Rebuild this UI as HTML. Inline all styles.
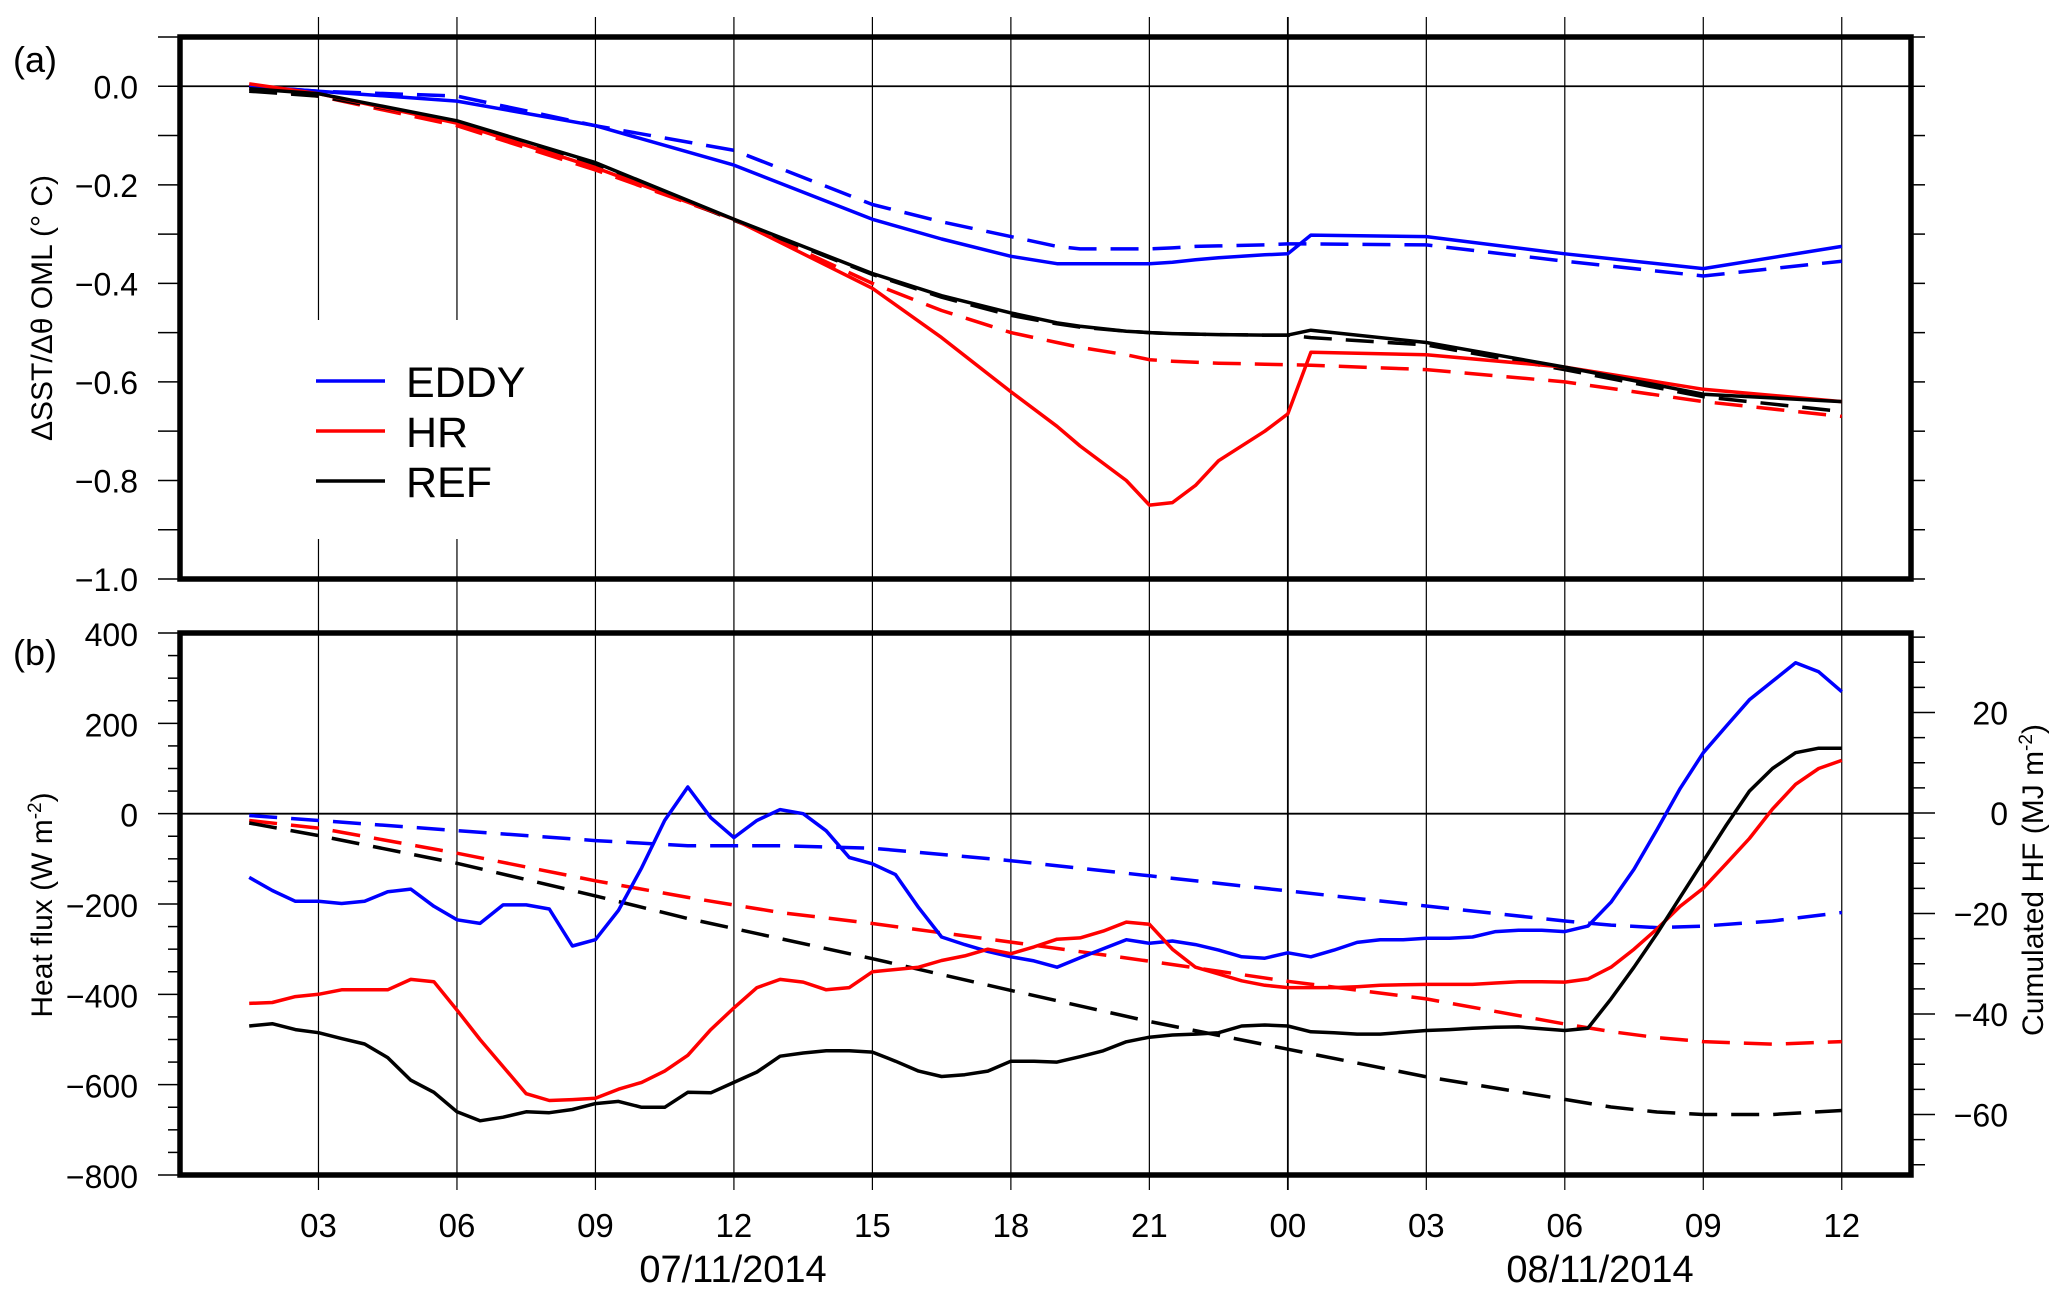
<!DOCTYPE html>
<html><head><meta charset="utf-8"><style>
html,body{margin:0;padding:0;background:#fff}
svg{display:block;font-family:"Liberation Sans",Arial,sans-serif}
</style></head><body>
<svg id="chart" width="2067" height="1303" viewBox="0 0 2067 1303" xmlns="http://www.w3.org/2000/svg" style="position:absolute;left:0;top:0">
<g id="grid"></g>
<g id="plotA"></g>
<g id="plotB"></g>
<g id="axes"></g>
<g id="legend">
  <line x1="316" y1="381" x2="385" y2="381" stroke="#0000ff" stroke-width="3.5"/>
  <text x="406" y="397" font-size="43">EDDY</text>
  <line x1="316" y1="431" x2="385" y2="431" stroke="#ff0000" stroke-width="3.5"/>
  <text x="406" y="447" font-size="43">HR</text>
  <line x1="316" y1="481" x2="385" y2="481" stroke="#000" stroke-width="3.5"/>
  <text x="406" y="497" font-size="43">REF</text>
</g>
<g>
  <text x="13" y="72" font-size="36">(a)</text>
  <text x="13" y="665" font-size="36">(b)</text>
  <text transform="translate(52,308) rotate(-90)" font-size="30" text-anchor="middle">ΔSST/Δθ OML (° C)</text>
  <text transform="translate(52,905) rotate(-90)" font-size="30" text-anchor="middle">Heat flux (W m<tspan font-size="19" dy="-11">-2</tspan><tspan dy="11">)</tspan></text>
  <text transform="translate(2043,880) rotate(-90)" font-size="30" text-anchor="middle">Cumulated HF (MJ m<tspan font-size="19" dy="-11">-2</tspan><tspan dy="11">)</tspan></text>
  <text x="733" y="1282" font-size="38" text-anchor="middle">07/11/2014</text>
  <text x="1600" y="1282" font-size="38" text-anchor="middle">08/11/2014</text>
</g>
</svg>
<script>
// ---- data ----
const hoursA = [1.5,3,6,9,12,15,16.5,18,19,19.5,20.5,21,21.5,22,22.5,23.5,24,24.5,27,30,33,36];
const eddySolidA = [0,-0.01,-0.03,-0.08,-0.16,-0.27,-0.31,-0.345,-0.36,-0.36,-0.36,-0.36,-0.357,-0.352,-0.348,-0.342,-0.34,-0.302,-0.305,-0.34,-0.37,-0.325];
const eddyDashA = [0,-0.01,-0.02,-0.08,-0.13,-0.24,-0.275,-0.305,-0.325,-0.33,-0.33,-0.33,-0.328,-0.325,-0.324,-0.322,-0.32,-0.32,-0.322,-0.355,-0.385,-0.355];
const hrSolidA = [0.005,-0.015,-0.075,-0.165,-0.27,-0.41,-0.51,-0.62,-0.69,-0.73,-0.8,-0.85,-0.845,-0.81,-0.76,-0.7,-0.665,-0.54,-0.545,-0.57,-0.615,-0.64];
const hrDashA = [-0.005,-0.02,-0.08,-0.17,-0.27,-0.4,-0.455,-0.5,-0.52,-0.53,-0.545,-0.555,-0.558,-0.56,-0.562,-0.564,-0.565,-0.566,-0.575,-0.6,-0.64,-0.67];
const refSolidA = [-0.005,-0.015,-0.07,-0.155,-0.27,-0.38,-0.425,-0.46,-0.48,-0.487,-0.497,-0.5,-0.502,-0.503,-0.504,-0.505,-0.505,-0.495,-0.52,-0.57,-0.625,-0.64];
const refDashA = [-0.01,-0.02,-0.072,-0.16,-0.272,-0.382,-0.428,-0.465,-0.482,-0.489,-0.497,-0.5,-0.502,-0.503,-0.504,-0.505,-0.505,-0.51,-0.525,-0.575,-0.63,-0.66];

const hoursB = [];
for (let i = 0; i <= 69; i++) hoursB.push(1.5 + i * 0.5);
const eddyFlux = [-141,-170,-194,-194,-199,-194,-173,-167,-205,-235,-243,-202,-202,-211,-293,-279,-214,-120,-15,59,-9,-53,-15,9,0,-38,-97,-111,-135,-208,-273,-290,-305,-317,-326,-340,-319,-299,-279,-287,-282,-290,-302,-317,-320,-308,-317,-302,-285,-279,-279,-276,-276,-273,-261,-258,-258,-261,-249,-196,-123,-35,56,135,194,252,293,334,314,270];
const hrFlux = [-420,-418,-405,-400,-390,-390,-390,-367,-372,-435,-500,-560,-620,-635,-633,-630,-610,-595,-570,-535,-478,-430,-385,-367,-373,-390,-385,-350,-345,-340,-325,-315,-300,-310,-295,-278,-275,-260,-240,-245,-300,-340,-355,-370,-380,-385,-385,-385,-383,-380,-379,-378,-378,-378,-375,-372,-372,-373,-366,-340,-300,-255,-205,-165,-110,-55,10,65,100,118];
const refFlux = [-470,-465,-478,-485,-498,-510,-540,-590,-617,-660,-680,-672,-660,-662,-655,-642,-637,-650,-650,-617,-618,-595,-572,-537,-530,-525,-525,-528,-548,-570,-582,-578,-570,-548,-548,-550,-538,-525,-505,-495,-490,-488,-485,-470,-468,-470,-483,-485,-488,-488,-484,-480,-478,-475,-473,-472,-476,-480,-475,-410,-340,-265,-185,-105,-25,50,100,135,145,145];

const hoursC = [1.5,3,6,9,11,13,15,18,21,24,27,30,31,32,33,34.5,36];
const eddyCum = [-0.5,-1.5,-3.5,-5.5,-6.5,-6.5,-7,-9.5,-12.5,-15.5,-18.5,-21.5,-22.3,-22.8,-22.5,-21.5,-19.8];
const hrCum = [-1.5,-3,-8,-13.5,-16.8,-19.8,-22,-25.7,-29.5,-33.5,-37,-42,-43.5,-44.7,-45.5,-46,-45.5];
const refCum = [-2,-4.5,-10,-16.5,-21,-25,-29,-35.3,-41.5,-47,-52.5,-57,-58.5,-59.5,-60,-60,-59.2];

const tickHours = [3,6,9,12,15,18,21,24,27,30,33,36];
const tickLabels = ["03","06","09","12","15","18","21","00","03","06","09","12"];
const aTicks = [0.0,-0.2,-0.4,-0.6,-0.8,-1.0];
const bTicks = [400,200,0,-200,-400,-600,-800];
const cTicks = [20,0,-20,-40,-60];

// ---- scales ----
const L = 180, R = 1911;
const x = h => L + (h / 37.5) * (R - L);
const yA = v => 37 + (0.1 - v) / 1.1 * (579 - 37);
const yB = v => 633 + (400 - v) / 1200 * (1175 - 633);
const yC = v => 813 + (0 - v) / 20 * 100.5;

const NS = "http://www.w3.org/2000/svg";
function mk(parent, tag, attrs) {
  const e = document.createElementNS(NS, tag);
  for (const k in attrs) e.setAttribute(k, attrs[k]);
  document.getElementById(parent).appendChild(e);
  return e;
}
function series(parent, hs, vs, ys, color, dashed, name) {
  const d = hs.map((h, i) => (i ? "L" : "M") + x(h).toFixed(1) + "," + ys(vs[i]).toFixed(1)).join(" ");
  const p = mk(parent, "path", {d: d, fill: "none", stroke: color, "stroke-width": 3.5, "stroke-dasharray": dashed ? "28,14" : "none", "stroke-linejoin": "round"});
  
  
}

// gridlines
tickHours.forEach((h, i) => {
  const xx = x(h);
  const sw = h === 24 ? 1.8 : 1.2;
  if (h === 3 || h === 6) {
    const g1 = mk("grid", "line", {x1: xx, x2: xx, y1: 17, y2: 320, stroke: "#000", "stroke-width": sw});
    
    
    const g2 = mk("grid", "line", {x1: xx, x2: xx, y1: 539, y2: 1190, stroke: "#000", "stroke-width": sw});
    
    
  } else {
    const g = mk("grid", "line", {x1: xx, x2: xx, y1: 17, y2: 1190, stroke: "#000", "stroke-width": sw});
    
    
  }
  const t = mk("axes", "text", {x: xx, y: 1237, "font-size": 33, "text-anchor": "middle"});
  t.textContent = tickLabels[i];
  
  
});
// zero lines
const z1 = mk("grid", "line", {x1: L, x2: R, y1: yA(0), y2: yA(0), stroke: "#000", "stroke-width": 1.8});


const z2 = mk("grid", "line", {x1: L, x2: R, y1: yB(0), y2: yB(0), stroke: "#000", "stroke-width": 1.8});



// panel a series
series("plotA", hoursA, eddyDashA, yA, "#0000ff", true, "eddy-dashed-a");
series("plotA", hoursA, hrDashA, yA, "#ff0000", true, "hr-dashed-a");
series("plotA", hoursA, refDashA, yA, "#000", true, "ref-dashed-a");
series("plotA", hoursA, eddySolidA, yA, "#0000ff", false, "eddy-solid-a");
series("plotA", hoursA, hrSolidA, yA, "#ff0000", false, "hr-solid-a");
series("plotA", hoursA, refSolidA, yA, "#000", false, "ref-solid-a");
// panel b series
series("plotB", hoursC, eddyCum, yC, "#0000ff", true, "eddy-cumulated");
series("plotB", hoursC, hrCum, yC, "#ff0000", true, "hr-cumulated");
series("plotB", hoursC, refCum, yC, "#000", true, "ref-cumulated");
series("plotB", hoursB, eddyFlux, yB, "#0000ff", false, "eddy-flux");
series("plotB", hoursB, hrFlux, yB, "#ff0000", false, "hr-flux");
series("plotB", hoursB, refFlux, yB, "#000", false, "ref-flux");

// frames
const fa = mk("axes", "rect", {x: L, y: 37, width: R - L, height: 579 - 37, fill: "none", stroke: "#000", "stroke-width": 5.5});


const fb = mk("axes", "rect", {x: L, y: 633, width: R - L, height: 1175 - 633, fill: "none", stroke: "#000", "stroke-width": 5.5});



// panel a y ticks
for (let k = 0; k <= 11; k++) {
  const v = 0.1 - k * 0.1, yy = yA(v);
  const lt = mk("axes", "line", {x1: 158, x2: L, y1: yy, y2: yy, stroke: "#000", "stroke-width": 1.5});
  
  
  const rt = mk("axes", "line", {x1: R, x2: R + 14, y1: yy, y2: yy, stroke: "#000", "stroke-width": 1.5});
  
  
}
aTicks.forEach(v => {
  const t = mk("axes", "text", {x: 138, y: yA(v) + 12, "font-size": 32, "text-anchor": "end"});
  t.textContent = (v < 0 ? "\u2212" : "") + Math.abs(v).toFixed(1);
  
  
});
// panel b left ticks every 50
for (let v = 400; v >= -800; v -= 50) {
  const yy = yB(v), major = v % 200 === 0;
  const lt = mk("axes", "line", {x1: major ? 158 : 168, x2: L, y1: yy, y2: yy, stroke: "#000", "stroke-width": 1.5});
  
  
}
bTicks.forEach(v => {
  const t = mk("axes", "text", {x: 138, y: yB(v) + 13, "font-size": 32, "text-anchor": "end"});
  t.textContent = (v < 0 ? "\u2212" : "") + Math.abs(v);
  
  
});
// right axis ticks every 5 MJ
for (let v = 35; v >= -70; v -= 5) {
  const yy = yC(v), major = v % 20 === 0;
  const rt = mk("axes", "line", {x1: R, x2: major ? R + 24 : R + 14, y1: yy, y2: yy, stroke: "#000", "stroke-width": 1.5});
  
  
}
cTicks.forEach(v => {
  const t = mk("axes", "text", {x: 2008, y: yC(v) + 12, "font-size": 32, "text-anchor": "end"});
  t.textContent = (v < 0 ? "\u2212" : "") + Math.abs(v);
  
  
});
</script>
</body></html>
